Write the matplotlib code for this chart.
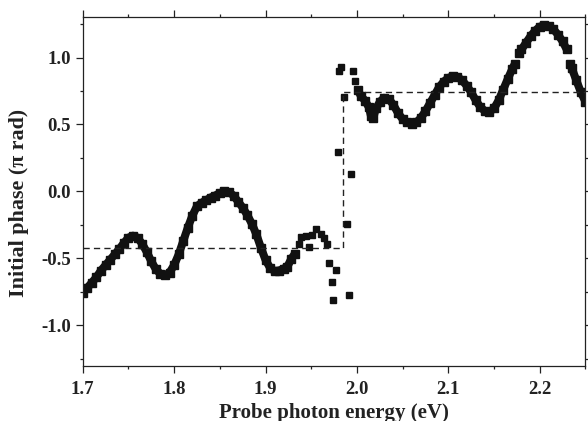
import numpy as np
import matplotlib
matplotlib.use("Agg")
import matplotlib.pyplot as plt
from matplotlib.ticker import MultipleLocator

# ---- data ----
# low-energy branch (dense, continuous)
energy_low = [1.700, 1.705, 1.710, 1.715, 1.720, 1.725, 1.730, 1.735, 1.740, 1.745,
              1.750, 1.755, 1.760, 1.765, 1.770, 1.775, 1.780, 1.785, 1.790, 1.795,
              1.800, 1.805, 1.810, 1.815, 1.820, 1.825, 1.830, 1.835, 1.840, 1.845,
              1.850, 1.855, 1.860, 1.865, 1.870, 1.875, 1.880, 1.885, 1.890, 1.895,
              1.900, 1.905, 1.910, 1.915, 1.920, 1.924, 1.928, 1.932]
phase_low = [-0.755, -0.72, -0.68, -0.64, -0.59, -0.55, -0.51, -0.47, -0.43, -0.385,
             -0.345, -0.33, -0.345, -0.39, -0.45, -0.52, -0.58, -0.615, -0.625, -0.605,
             -0.55, -0.47, -0.37, -0.27, -0.18, -0.11, -0.085, -0.065, -0.045, -0.03,
             -0.012, 0.0, -0.005, -0.03, -0.075, -0.12, -0.175, -0.24, -0.32, -0.42,
             -0.51, -0.57, -0.595, -0.59, -0.575, -0.56, -0.505, -0.465]

# scattered points around the transition
energy_mid = [1.9367, 1.9393, 1.9440, 1.9476, 1.9514, 1.9550, 1.9605, 1.9641, 1.9678,
              1.9696, 1.9722, 1.9740, 1.9769, 1.9795, 1.9799, 1.9824, 1.9861, 1.9887,
              1.9915, 1.9934, 1.9959, 1.9981]
phase_mid = [-0.392, -0.338, -0.330, -0.412, -0.323, -0.280, -0.317, -0.347, -0.392,
             -0.535, -0.672, -0.813, -0.585, 0.294, 0.897, 0.926, 0.703, -0.243,
             -0.776, 0.134, 0.902, 0.827]

# high-energy branch (dense, with two small stitching gaps)
energy_high = [2.0008, 2.0044, 2.0088, 2.0132, 2.0154, 2.0176, 2.0209, 2.0252, 2.0296,
               2.035, 2.040, 2.045, 2.050, 2.055, 2.060, 2.065, 2.070, 2.075, 2.080,
               2.085, 2.090, 2.095, 2.100, 2.105, 2.110, 2.115, 2.120, 2.125, 2.130,
               2.135, 2.140, 2.145, 2.150, 2.155, 2.160, 2.165, 2.170, 2.1725,
               np.nan,
               2.1775, 2.180, 2.185, 2.190, 2.195, 2.200, 2.205, 2.210, 2.215, 2.220,
               2.225, 2.2295,
               np.nan,
               2.233, 2.235, 2.240, 2.245, 2.250]
phase_high = [0.761, 0.711, 0.679, 0.627, 0.562, 0.545, 0.620, 0.670, 0.699,
              0.690, 0.645, 0.585, 0.540, 0.515, 0.505, 0.515, 0.550, 0.600, 0.660,
              0.720, 0.780, 0.820, 0.848, 0.860, 0.855, 0.830, 0.790, 0.740, 0.680,
              0.630, 0.600, 0.595, 0.620, 0.680, 0.760, 0.840, 0.915, 0.950,
              np.nan,
              1.035, 1.060, 1.110, 1.160, 1.200, 1.230, 1.240, 1.235, 1.210, 1.170,
              1.120, 1.060,
              np.nan,
              0.950, 0.920, 0.830, 0.740, 0.670]

# dashed step guide (two mean levels and the switching energy)
step_energy = [1.70, 1.985, 1.985, 2.25]
step_phase = [-0.42, -0.42, 0.745, 0.745]

x_ticks = [1.7, 1.8, 1.9, 2.0, 2.1, 2.2]
y_ticks = [-1.0, -0.5, 0.0, 0.5, 1.0]

# ---- figure ----
plt.rcParams['font.family'] = ['Liberation Serif', 'DejaVu Serif']
plt.rcParams['font.weight'] = 'bold'

fig = plt.figure(figsize=(5.88, 4.21), dpi=100)
ax = fig.add_axes([0.1406, 0.1314, 0.8551, 0.8275])

col = '#111111'
ax.plot(energy_low, phase_low, '-', color=col, lw=5.8, marker='s', ms=5.2,
        solid_joinstyle='round', solid_capstyle='butt')
ax.plot(energy_high, phase_high, '-', color=col, lw=5.8, marker='s', ms=5.2,
        solid_joinstyle='round', solid_capstyle='butt')
ax.plot(energy_mid, phase_mid, 's', color=col, ms=4.9, lw=0)
ax.plot(step_energy, step_phase, '--', color='#222222', lw=1.0, dashes=(4.5, 3))

ax.set_xlim(1.7, 2.25)
ax.set_ylim(-1.3, 1.3)
ax.set_xticks(x_ticks)
ax.set_yticks(y_ticks)
ax.set_xticklabels([f"{v:.1f}" for v in x_ticks])
ax.set_yticklabels([f"{v:.1f}" for v in y_ticks])
ax.xaxis.set_minor_locator(MultipleLocator(0.05))
ax.yaxis.set_minor_locator(MultipleLocator(0.25))
ax.tick_params(which='both', direction='out', top=True, right=True,
               width=0.9, colors='#222222', labelcolor='#222222')
ax.tick_params(which='major', length=4.8, labelsize=13.5)
ax.tick_params(axis='y', which='major', pad=3.5)
ax.tick_params(axis='x', which='major', pad=6.5)
ax.tick_params(which='minor', length=2.5)
for lab in ax.get_xticklabels() + ax.get_yticklabels():
    lab.set_fontweight('bold')
for s in ax.spines.values():
    s.set_linewidth(0.9)
    s.set_color('#222222')

ax.set_xlabel('Probe photon energy (eV)', fontsize=15, fontweight='bold',
              labelpad=3, color='#222222')
ax.set_ylabel('Initial phase (\u03c0 rad)', fontsize=15.8, fontweight='bold',
              color='#222222')
ax.yaxis.set_label_coords(-0.107, 0.467)

fig.savefig('out.png', dpi=100)
